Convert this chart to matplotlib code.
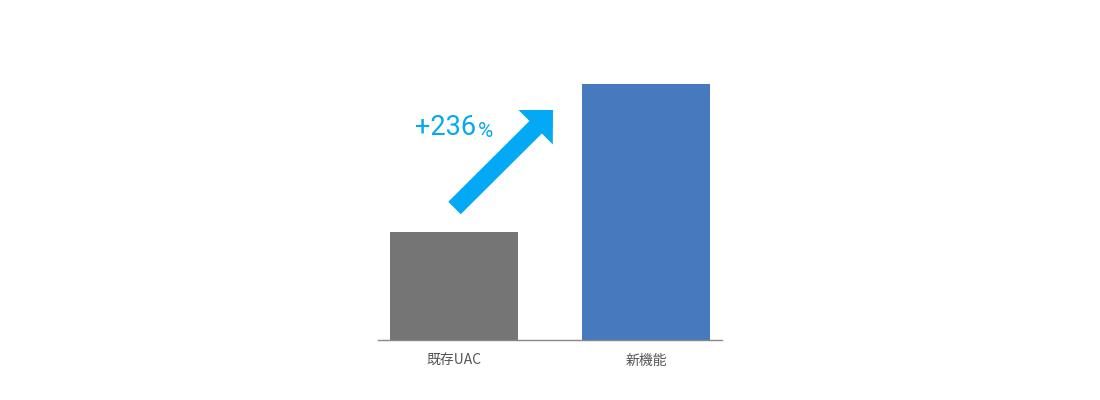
import matplotlib.pyplot as plt

plt.rcParams["font.family"] = ["Noto Sans CJK JP", "DejaVu Sans"]

# data
categories = ["既存UAC", "新機能"]
values = [100, 237]
bar_colors = ["#757575", "#4679BE"]
growth_label = "+236"

ARROW_COLOR = "#03A9F4"

fig = plt.figure(figsize=(11, 4), dpi=100)
# axes box in figure fraction: x 378..722 px, y 60..340 px
ax = fig.add_axes([378 / 1100, 60 / 400, 344 / 1100, 280 / 400])

x = range(len(categories))
ax.bar(x, values, width=0.667, color=bar_colors)
ax.set_xlim(-0.396, 1.396)
ax.set_ylim(0, 259)

ax.set_xticks(list(x))
ax.set_xticklabels(categories, fontsize=10, color="#555555")
ax.tick_params(axis="x", length=0, pad=10)
ax.set_yticks([])
for side in ["top", "right", "left"]:
    ax.spines[side].set_visible(False)
ax.spines["bottom"].set_color("#888888")
ax.spines["bottom"].set_linewidth(1.0)

# growth arrow
ax.annotate(
    "",
    xy=(0.5087, 0.8214),
    xytext=(0.2224, 0.4714),
    xycoords="axes fraction",
    textcoords="axes fraction",
    arrowprops=dict(
        arrowstyle="simple,head_length=17.6,head_width=35,tail_width=12.7",
        mutation_scale=1,
        color=ARROW_COLOR,
        shrinkA=0,
        shrinkB=0,
        lw=0,
    ),
)

num = ax.text(0.1076, 0.732, growth_label, transform=ax.transAxes,
              fontsize=19.5, color=ARROW_COLOR, family=["Roboto", "DejaVu Sans"],
              ha="left", va="baseline")
ax.annotate("%", xy=(1, 0), xycoords=num, xytext=(1, 0),
            textcoords="offset points", fontsize=15, color=ARROW_COLOR,
            family=["Roboto", "DejaVu Sans"],
            ha="left", va="bottom")

fig.savefig("out.png", dpi=100)
